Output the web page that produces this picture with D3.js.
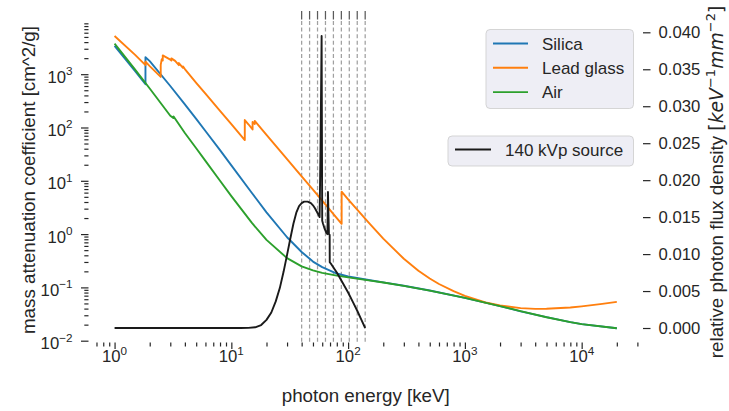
<!DOCTYPE html>
<html lang="en">
<head>
<meta charset="UTF-8">
<script src="https://d3js.org/d3.v7.min.js"></script>
<title>Attenuation and 140 kVp source</title>
<style>
    body { margin: 0; background: #fff; }
    text { font-family: "Liberation Sans", Arial, sans-serif; fill: #262626; }
</style>
</head>
<body>
<script>

    // mass attenuation coefficients [cm^2/g] vs photon energy [keV]
    var silicaEnergy = [1, 1.5, 1.839, 1.839, 2, 3, 4, 5, 6, 8, 10, 15, 20, 30, 40, 50, 60, 80, 100, 150, 200, 300, 500, 1000, 2000, 3000, 5000, 8000, 10000, 20000];
    var silicaMu = [3400, 1140, 650, 2080, 1760, 600, 272, 145, 86, 37.5, 19.5, 5.9, 2.56, 0.872, 0.462, 0.305, 0.240, 0.182, 0.160, 0.1375, 0.1245, 0.1072, 0.0873, 0.0637, 0.0445, 0.0356, 0.0276, 0.0223, 0.0205, 0.0171];

    var leadEnergy = [1, 1.5, 1.839, 1.839, 2, 2.484, 2.484, 2.534, 2.586, 2.586, 3, 3.066, 3.066, 3.3, 3.554, 3.554, 3.851, 3.851, 4, 5, 6, 8, 10, 13.035, 13.035, 14, 15.2, 15.2, 15.861, 15.861, 20, 30, 40, 50, 60, 80, 88.005, 88.005, 100, 150, 200, 300, 400, 500, 600, 800, 1000, 1500, 2000, 3000, 4000, 5000, 6000, 8000, 10000, 15000, 20000];
    var leadMu = [5200, 2300, 1480, 1720, 1420, 890, 1500, 1900, 1800, 2250, 1880, 1800, 1980, 1780, 1480, 1620, 1320, 1400, 1250, 690, 430, 205, 116, 58, 138, 115, 92, 127, 116, 133, 73, 25.5, 12.1, 6.8, 4.25, 2.0, 1.56, 6.25, 4.5, 1.64, 0.824, 0.344, 0.205, 0.1466, 0.1159, 0.0851, 0.0695, 0.0521, 0.0458, 0.0409, 0.0396, 0.0398, 0.0405, 0.0419, 0.0441, 0.0491, 0.0534];

    var airEnergy = [1, 1.5, 2, 3, 3.203, 3.203, 4, 5, 6, 8, 10, 15, 20, 30, 40, 50, 60, 80, 100, 150, 200, 300, 500, 1000, 2000, 3000, 5000, 8000, 10000, 20000];
    var airMu = [3750, 1220, 540, 166, 150, 161, 79, 40.8, 23.6, 10.0, 5.15, 1.62, 0.778, 0.354, 0.2485, 0.208, 0.1875, 0.1662, 0.1541, 0.1356, 0.1233, 0.1067, 0.0871, 0.0636, 0.0445, 0.0358, 0.0275, 0.0223, 0.0205, 0.0171];

    // 140 kVp source spectrum, relative photon flux density
    var sourceEnergy = [1, 5, 10, 12, 14, 16, 18, 20, 22, 24, 26, 28, 30, 32, 34, 36, 38, 40, 42, 45, 48, 50, 52, 55, 57, 58, 59.3, 60, 61, 63, 65, 66.5, 67.2, 68.5, 69.5, 69.6, 72, 80, 90, 100, 110, 120, 130, 140];
    var sourceFlux = [0, 0, 0, 0, 0.00002, 0.0001, 0.0004, 0.0011, 0.0021, 0.0036, 0.0054, 0.0076, 0.0099, 0.0121, 0.0141, 0.0156, 0.0165, 0.0169, 0.0171, 0.0171, 0.0169, 0.0166, 0.0162, 0.0155, 0.0150, 0.024, 0.0395, 0.0145, 0.0141, 0.0134, 0.0129, 0.0127, 0.0184, 0.0127, 0.0126, 0.0089, 0.0086, 0.0075, 0.0061, 0.0048, 0.0035, 0.0023, 0.0011, 0];

    // energy bins (dashed lines)
    var binEdges = [40, 46.78, 54.71, 63.98, 74.83, 87.51, 102.35, 119.70, 140];

    var xMajor = [1, 10, 100, 1000, 10000];
    var yMajor = [0.01, 0.1, 1, 10, 100, 1000];
    var fluxTicks = [0, 0.005, 0.01, 0.015, 0.02, 0.025, 0.03, 0.035, 0.04];

    var materials = ["Silica", "Lead glass", "Air"];
    var colors = ["#1f77b4", "#ff7f0e", "#2ca02c"];

    //Width and height
    var w = 729;
    var h = 411;
    var plotLeft = 89.5, plotRight = 642, plotTop = 21, plotBottom = 342.5;

    var xScale = d3.scaleLog().domain([0.61, 32860]).range([plotLeft, plotRight]);
    var yScale = d3.scaleLog().domain([0.00925, 9954]).range([plotBottom, plotTop]);
    var fluxScale = d3.scaleLinear().domain([-0.00196, 0.04153]).range([plotBottom, plotTop]);

    function minorTicks(scale) {
        var dom = scale.domain(), out = [];
        for (var k = -3; k <= 5; k++) {
            for (var m = 2; m <= 9; m++) {
                var v = m * Math.pow(10, k);
                if (v >= dom[0] && v <= dom[1]) out.push(v);
            }
        }
        return out;
    }

    var svg = d3.select("body")
        .append("svg")
        .attr("width", w)
        .attr("height", h);

    // faint white grid line (only visible through the legends)
    svg.append("line")
        .attr("x1", xScale(10000)).attr("x2", xScale(10000))
        .attr("y1", plotTop).attr("y2", plotBottom)
        .attr("stroke", "#ffffff").attr("stroke-width", 1.2);

    // dashed bin lines
    var bins = svg.append("g");
    bins.selectAll("line.bin")
        .data(binEdges)
        .enter()
        .append("line")
        .attr("class", "bin")
        .attr("x1", function (d) { return xScale(d); })
        .attr("x2", function (d) { return xScale(d); })
        .attr("y1", plotTop)
        .attr("y2", plotBottom)
        .attr("stroke", "#a0a0a0")
        .attr("stroke-width", 1.25)
        .attr("stroke-dasharray", "4,2.6");
    bins.selectAll("line.cap")
        .data(binEdges)
        .enter()
        .append("line")
        .attr("class", "cap")
        .attr("x1", function (d) { return xScale(d); })
        .attr("x2", function (d) { return xScale(d); })
        .attr("y1", 11)
        .attr("y2", 19.5)
        .attr("stroke", "#5a5a5a")
        .attr("stroke-width", 1.25);

    var line = d3.line()
        .x(function (d) { return xScale(d[0]); })
        .y(function (d) { return yScale(d[1]); });

    var curves = [d3.zip(silicaEnergy, silicaMu), d3.zip(leadEnergy, leadMu), d3.zip(airEnergy, airMu)];
    svg.selectAll("path.mat")
        .data(curves)
        .enter()
        .append("path")
        .attr("class", "mat")
        .attr("d", line)
        .attr("fill", "none")
        .attr("stroke", function (d, i) { return colors[i]; })
        .attr("stroke-width", 1.9)
        .attr("stroke-linejoin", "round");

    // legend for materials
    var leg = svg.append("g");
    leg.append("rect")
        .attr("x", 486).attr("y", 29.5).attr("width", 147.5).attr("height", 79)
        .attr("rx", 4)
        .attr("fill", "#eaeaf2").attr("fill-opacity", 0.8)
        .attr("stroke", "#cccccc").attr("stroke-opacity", 0.8);
    materials.forEach(function (m, i) {
        var yy = 43.5 + i * 24.3;
        leg.append("line")
            .attr("x1", 493).attr("x2", 528).attr("y1", yy).attr("y2", yy)
            .attr("stroke", colors[i]).attr("stroke-width", 1.9);
        leg.append("text")
            .attr("x", 542).attr("y", yy + 6)
            .attr("font-size", "17px")
            .text(m);
    });

    // source spectrum on the right axis
    var fluxLine = d3.line()
        .x(function (d) { return xScale(d[0]); })
        .y(function (d) { return fluxScale(d[1]); });

    svg.append("path")
        .datum(d3.zip(sourceEnergy, sourceFlux))
        .attr("d", fluxLine)
        .attr("fill", "none")
        .attr("stroke", "#1a1a1a")
        .attr("stroke-width", 1.9)
        .attr("stroke-linejoin", "round");

    var leg2 = svg.append("g");
    leg2.append("rect")
        .attr("x", 448).attr("y", 136).attr("width", 185.5).attr("height", 30)
        .attr("rx", 4)
        .attr("fill", "#eaeaf2").attr("fill-opacity", 0.8)
        .attr("stroke", "#cccccc").attr("stroke-opacity", 0.8);
    leg2.append("line")
        .attr("x1", 455).attr("x2", 491).attr("y1", 149.5).attr("y2", 149.5)
        .attr("stroke", "#1a1a1a").attr("stroke-width", 1.9);
    leg2.append("text")
        .attr("x", 505).attr("y", 155.5)
        .attr("font-size", "17px")
        .text("140 kVp source");

    // axes (ticks only, no spines)
    function styleAxis(g) {
        g.select(".domain").remove();
        g.selectAll(".tick line").attr("stroke", "#262626").attr("stroke-width", 1.2);
        g.selectAll(".tick text").attr("fill", "#262626");
    }

    svg.append("g")
        .attr("transform", "translate(0," + plotBottom + ")")
        .call(d3.axisBottom(xScale).tickValues(minorTicks(xScale)).tickSize(4).tickFormat(""))
        .call(styleAxis);
    svg.append("g")
        .attr("transform", "translate(0," + plotBottom + ")")
        .call(d3.axisBottom(xScale).tickValues(xMajor).tickSize(6.5).tickFormat(""))
        .call(styleAxis);

    svg.append("g")
        .attr("transform", "translate(88.5,0)")
        .call(d3.axisLeft(yScale).tickValues(minorTicks(yScale)).tickSize(4.2).tickFormat(""))
        .call(styleAxis);
    svg.append("g")
        .attr("transform", "translate(88.5,0)")
        .call(d3.axisLeft(yScale).tickValues(yMajor).tickSize(7.5).tickFormat(""))
        .call(styleAxis);

    svg.append("g")
        .attr("transform", "translate(643,0)")
        .call(d3.axisRight(fluxScale).tickValues(fluxTicks).tickSize(7.5).tickPadding(8)
            .tickFormat(d3.format(".3f")))
        .call(styleAxis)
        .selectAll(".tick text")
        .attr("font-family", "Liberation Sans, Arial, sans-serif")
        .attr("font-size", "16.7px");

    // power-of-ten labels
    function pow10(sel, v) {
        var e = Math.round(Math.log10(v));
        sel.append("tspan").text("10");
        sel.append("tspan")
            .attr("font-size", "11.7px")
            .attr("dy", -7.5)
            .text(String(e).replace("-", "\u2212"));
    }

    xMajor.forEach(function (v) {
        svg.append("text")
            .attr("x", xScale(v))
            .attr("y", 362)
            .attr("text-anchor", "middle")
            .attr("font-size", "16.7px")
            .call(pow10, v);
    });

    yMajor.forEach(function (v) {
        svg.append("text")
            .attr("x", 72.5)
            .attr("y", yScale(v) + 8.5)
            .attr("text-anchor", "end")
            .attr("font-size", "16.7px")
            .call(pow10, v);
    });

    // axis labels
    svg.append("text")
        .attr("x", (plotLeft + plotRight) / 2)
        .attr("y", 401.5)
        .attr("text-anchor", "middle")
        .attr("font-size", "18.8px")
        .text("photon energy [keV]");

    svg.append("text")
        .attr("transform", "translate(35," + 180 + ") rotate(-90)")
        .attr("text-anchor", "middle")
        .attr("font-size", "18.8px")
        .text("mass attenuation coefficient [cm^2/g]");

    var rl = svg.append("text")
        .attr("transform", "translate(723," + 182 + ") rotate(-90)")
        .attr("text-anchor", "middle")
        .attr("font-size", "18.8px");
    rl.append("tspan").text("relative photon flux density ");
    var mathFont = "DejaVu Sans, sans-serif";
    rl.append("tspan").attr("font-family", mathFont).text("[");
    rl.append("tspan").attr("font-family", mathFont).attr("font-style", "italic").text("keV");
    rl.append("tspan").attr("font-family", mathFont).attr("font-size", "13px").attr("dy", -8).text("\u22121");
    rl.append("tspan").attr("font-family", mathFont).attr("font-style", "italic").attr("dy", 8).text("mm");
    rl.append("tspan").attr("font-family", mathFont).attr("font-size", "13px").attr("dy", -8).text("\u22122");
    rl.append("tspan").attr("font-family", mathFont).attr("dy", 8).text("]");

</script>
</body>
</html>
